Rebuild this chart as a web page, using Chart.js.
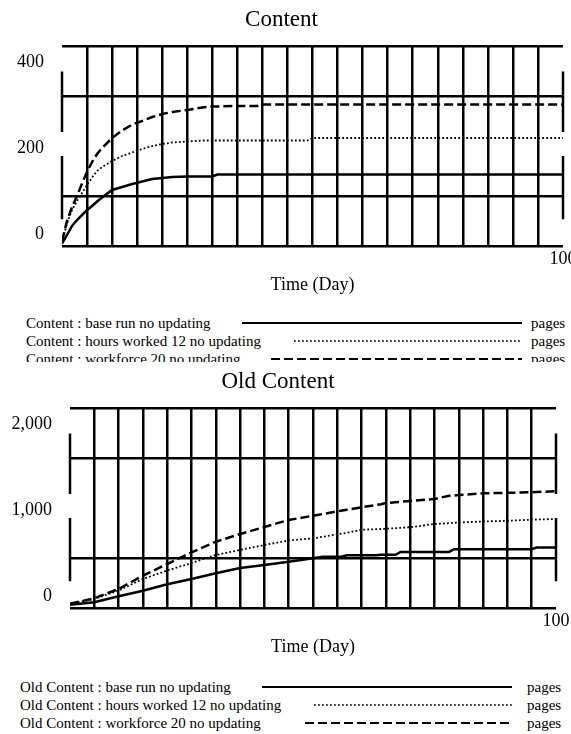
<!DOCTYPE html>
<html>
<head>
<meta charset="utf-8">
<script src="https://cdn.jsdelivr.net/npm/chart.js@4"></script>
<style>
  html, body { margin: 0; padding: 0; background: #fff; overflow: hidden; }
  body { width: 571px; height: 734px; position: relative; font-family: "Liberation Serif", "Times New Roman", serif; color: #000; }
  canvas { position: absolute; left: 0; background: #fff; }
  #contentChart { top: 0; z-index: 1; }
  #oldChart { top: 362px; z-index: 3; }
  .legend { position: absolute; left: 0; width: 571px; font-size: 15px; z-index: 2; }
  .row { position: absolute; height: 18px; width: 571px; }
  .row span { position: absolute; top: 0; line-height: 18px; white-space: nowrap; }
  .row svg { position: absolute; top: 0; }
</style>
</head>
<body>
<canvas id="contentChart" width="590" height="300"></canvas>
<div class="legend" id="contentLegend" style="top:314px"></div>
<canvas id="oldChart" width="590" height="300"></canvas>
<div class="legend" id="oldLegend" style="top:678px"></div>

<script>
// --- данные: Content (pages) ---
const contentDays = [0, 1, 2, 3, 4, 5, 6, 7, 8, 10, 12, 14, 16, 18, 20, 22, 25, 28, 30, 31, 35, 39, 40, 45, 49, 50, 60, 70, 80, 90, 100];
const contentBase = [5, 22, 40, 52, 62, 72, 80, 89, 97, 112, 118, 124, 129, 134, 136, 138, 139, 139, 139, 143, 143, 143, 143, 143, 143, 143, 143, 143, 143, 143, 143];
const contentHours12 = [8, 45, 72, 90, 106, 122, 137, 150, 158, 170, 180, 187, 194, 200, 204, 207, 209, 211, 211, 211, 211, 211, 211, 211, 211, 216, 216, 216, 216, 216, 216];
const contentWorkforce20 = [10, 50, 78, 100, 125, 148, 168, 184, 196, 216, 231, 243, 250, 258, 264, 268, 272, 277, 279, 279, 280, 280, 283, 283, 283, 283, 283, 283, 283, 283, 283];
const contentTicks = [0, 200, 400];

// --- данные: Old Content (pages) ---
const oldDays = [0, 5, 10, 15, 20, 25, 30, 35, 40, 45, 50, 52, 56, 57, 60, 63, 64, 65, 67, 68, 70, 75, 78, 79, 80, 85, 90, 95, 96, 100];
const oldBase = [33, 58, 118, 173, 238, 290, 348, 400, 430, 463, 497, 513, 515, 527, 527, 527, 532, 532, 532, 561, 561, 561, 561, 588, 588, 588, 588, 588, 605, 605];
const oldHours12 = [40, 90, 175, 290, 375, 450, 530, 580, 630, 675, 697, 712, 745, 752, 783, 788, 790, 792, 798, 802, 808, 840, 848, 852, 855, 865, 872, 883, 885, 890];
const oldWorkforce20 = [43, 97, 190, 323, 440, 556, 663, 740, 810, 880, 923, 940, 975, 983, 1007, 1030, 1038, 1050, 1058, 1062, 1070, 1090, 1123, 1125, 1130, 1147, 1152, 1157, 1160, 1167];
const oldTicks = [0, 1000, 2000];

const runNames = ['base run no updating', 'hours worked 12 no updating', 'workforce 20 no updating'];
const units = 'pages';
const xTitle = 'Time (Day)';

const FONT = '"Liberation Serif", "Times New Roman", serif';
const LINE_STYLES = [
  { width: 2.5, dash: [] },
  { width: 1.8, dash: [1.8, 2.2] },
  { width: 2.5, dash: [9, 4] }
];
// разрывы вертикальных осей (доли высоты области графика)
const AXIS_SEGMENTS = [[0.127, 0.43], [0.55, 0.866]];

const axisBreaks = {
  id: 'axisBreaks',
  afterDraw(chart) {
    const { ctx, chartArea: a } = chart;
    const h = a.bottom - a.top;
    ctx.save();
    ctx.strokeStyle = '#000';
    ctx.lineWidth = 2.5;
    ctx.beginPath();
    [a.left, a.right].forEach(x => {
      AXIS_SEGMENTS.forEach(([f0, f1]) => {
        ctx.moveTo(x, a.top + f0 * h);
        ctx.lineTo(x, a.top + f1 * h);
      });
    });
    ctx.stroke();
    ctx.restore();
  }
};

function toPoints(days, values) {
  return days.map((d, i) => ({ x: d, y: values[i] }));
}

function buildChart(canvasId, title, days, series, ticks, opts) {
  const yMax = ticks[ticks.length - 1];
  const yHidden = [ticks[1]]; // нет линии сетки на средней подписи
  const datasets = series.map((vals, i) => ({
    label: title + ' : ' + runNames[i],
    data: toPoints(days, vals),
    borderColor: '#000',
    borderWidth: LINE_STYLES[i].width,
    borderDash: LINE_STYLES[i].dash,
    pointRadius: 0,
    tension: 0,
    fill: false
  }));

  return new Chart(document.getElementById(canvasId), {
    type: 'line',
    data: { datasets },
    plugins: [axisBreaks],
    options: {
      responsive: false,
      animation: false,
      devicePixelRatio: 1,
      layout: { padding: { left: 0, right: opts.padRight, top: 0, bottom: 0 } },
      plugins: {
        legend: { display: false },
        tooltip: { enabled: false },
        title: {
          display: true,
          text: title,
          color: '#000',
          font: { family: FONT, size: 23, weight: 'normal' },
          padding: { top: 6, bottom: 12 }
        }
      },
      scales: {
        x: {
          type: 'linear',
          min: 0,
          max: 100,
          afterFit: s => { s.height = 54; },
          border: { display: false },
          grid: {
            drawTicks: false,
            lineWidth: 2.5,
            color: c => (c.tick.value === 0 || c.tick.value === 100) ? 'rgba(0,0,0,0)' : '#000'
          },
          ticks: {
            stepSize: 5,
            autoSkip: false,
            maxRotation: 0,
            padding: 2,
            color: '#000',
            font: { family: FONT, size: 18 },
            callback: v => v === 100 ? '100' : ''
          },
          title: {
            display: true,
            text: xTitle,
            color: '#000',
            font: { family: FONT, size: 18 },
            padding: { top: 4, bottom: 4 }
          }
        },
        y: {
          min: 0,
          max: yMax,
          afterFit: s => { s.width = opts.leftWidth; },
          border: { display: false },
          grid: {
            drawTicks: false,
            lineWidth: 2.5,
            color: c => yHidden.includes(c.tick.value) ? 'rgba(0,0,0,0)' : '#000'
          },
          ticks: {
            stepSize: yMax / 4,
            autoSkip: false,
            padding: 18,
            labelOffset: 2,
            color: '#000',
            font: { family: FONT, size: 18, lineHeight: 28 / 18 },
            callback: v => {
              if (!ticks.includes(v)) return '';
              const txt = v.toLocaleString('en-US');
              if (v === 0) return [txt, ''];
              if (v === yMax) return ['', txt];
              return txt;
            }
          }
        }
      }
    }
  });
}

// легенда в стиле Vensim: имя, образец линии, единицы
function buildLegend(divId, title, geo) {
  const div = document.getElementById(divId);
  runNames.forEach((name, i) => {
    const row = document.createElement('div');
    row.className = 'row';
    row.style.top = (i * 18) + 'px';
    const st = LINE_STYLES[i];
    const x0 = geo.lineStart[i], x1 = geo.lineEnd;
    row.innerHTML =
      `<span style="left:${geo.textLeft}px">${title} : ${name}</span>` +
      `<svg width="571" height="18" style="left:0"><line x1="${x0}" y1="9" x2="${x1}" y2="9" stroke="#000" stroke-width="${st.width * 0.8}" stroke-dasharray="${st.dash.join(' ')}"/></svg>` +
      `<span style="left:${geo.unitsLeft}px">${units}</span>`;
    div.appendChild(row);
  });
}

buildChart('contentChart', 'Content', contentDays, [contentBase, contentHours12, contentWorkforce20], contentTicks, { leftWidth: 62, padRight: 27 });
buildChart('oldChart', 'Old Content', oldDays, [oldBase, oldHours12, oldWorkforce20], oldTicks, { leftWidth: 70, padRight: 34 });

buildLegend('contentLegend', 'Content', { textLeft: 26, lineStart: [242, 294, 271], lineEnd: 522, unitsLeft: 531 });
buildLegend('oldLegend', 'Old Content', { textLeft: 20, lineStart: [262, 314, 305], lineEnd: 512, unitsLeft: 527 });
</script>
</body>
</html>
